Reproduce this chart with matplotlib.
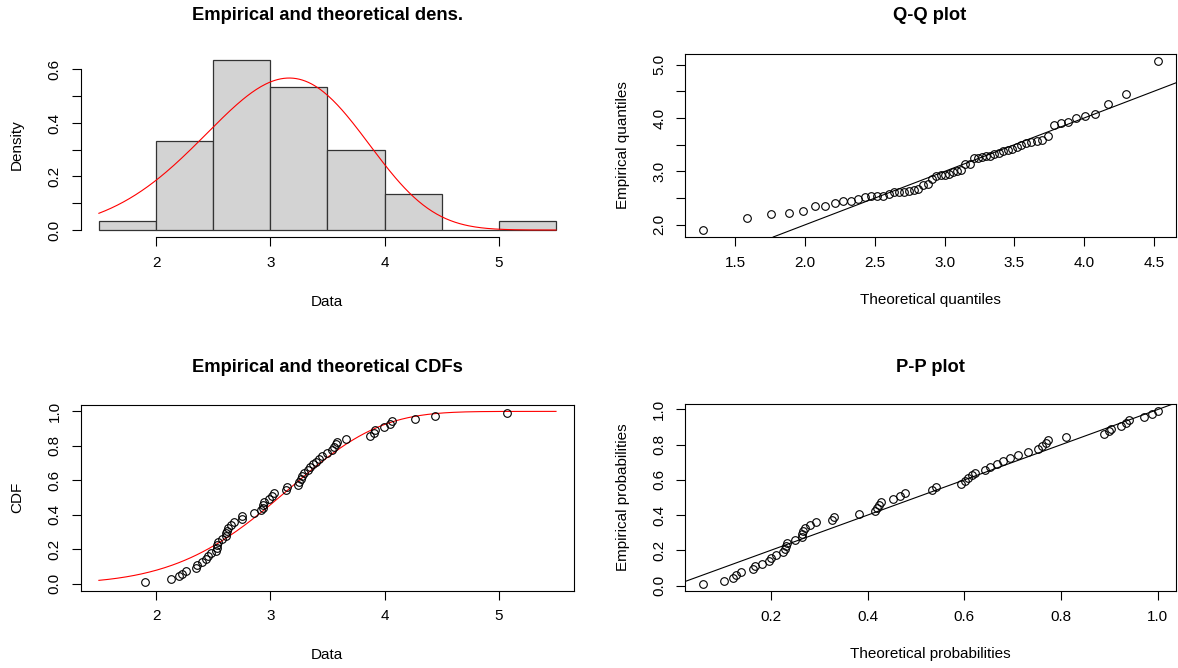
import numpy as np
import matplotlib
matplotlib.use("Agg")
import matplotlib.pyplot as plt

plt.rcParams['font.family'] = ['Liberation Sans', 'DejaVu Sans']

data = [1.90,
        2.127, 2.202, 2.227, 2.259, 2.346, 2.359, 2.402, 2.440, 2.452, 2.483,
        2.521, 2.531, 2.534, 2.538, 2.578, 2.612, 2.615, 2.618, 2.628, 2.653,
        2.678, 2.750, 2.756, 2.859, 2.922, 2.932, 2.937, 2.947, 2.991,
        3.017, 3.036, 3.136, 3.148, 3.242, 3.254, 3.267, 3.280, 3.292, 3.329,
        3.349, 3.374, 3.398, 3.424, 3.455, 3.495,
        3.536, 3.555, 3.574, 3.580, 3.662, 3.874, 3.905, 3.920, 3.995,
        4.045, 4.068, 4.265, 4.440,
        5.07]
breaks = [1.5, 2.0, 2.5, 3.0, 3.5, 4.0, 4.5, 5.0, 5.5]

# fitted weibull
shape = 5.0
scale = 3.31


def wpdf(x):
    z = x / scale
    return shape / scale * z ** (shape - 1) * np.exp(-z ** shape)


def wcdf(x):
    return 1 - np.exp(-(x / scale) ** shape)


def wq(p):
    return scale * (-np.log(1 - p)) ** (1 / shape)


def rlim(v):
    # R style 4% extension
    lo, hi = min(v), max(v)
    d = (hi - lo) * 0.04
    return lo - d, hi + d


x = np.sort(np.array(data))
n = len(x)
pp = (np.arange(1, n + 1) - 0.5) / n

W, H = 1178, 668
fig = plt.figure(figsize=(W / 100, H / 100), dpi=100)


def panel(l, t, r, b):
    return fig.add_axes([l / W, 1 - b / H, (r - l) / W, (b - t) / H])


def txt(cx, cy, s, **kw):
    fig.text(cx / W, 1 - cy / H, s, ha='center', va='center', **kw)


def r_axes(ax):
    for sp in ax.spines.values():
        sp.set_linewidth(0.8)
        sp.set_color('black')
    ax.tick_params(direction='out', length=6.5, width=0.8, labelsize=11, pad=7)


def rot_y(ax):
    for lb in ax.get_yticklabels():
        lb.set_rotation(90)
        lb.set_va('center')


xs = np.linspace(1.5, 5.5, 300)
pt = dict(linestyle='none', marker='o', mfc='none', mec='black', ms=5.5, mew=0.8)

# density
ax1 = panel(80.6, 53.7, 574.3, 236.8)
r_axes(ax1)
dens, _ = np.histogram(x, bins=breaks, density=True)
ax1.hist(x, bins=breaks, density=True, color='#D3D3D3', edgecolor='#333333', linewidth=0.9)
ax1.plot(xs, wpdf(xs), color='red', lw=0.8)
top = max(dens.max(), wpdf(xs).max())
ax1.set_xlim(rlim(breaks))
ax1.set_ylim(rlim([0, top]))
ax1.spines['top'].set_visible(False)
ax1.spines['right'].set_visible(False)
ax1.spines['left'].set_bounds(0, 0.6)
ax1.spines['bottom'].set_bounds(2, 5)
ax1.set_xticks([2, 3, 4, 5], ['2', '3', '4', '5'])
ax1.set_yticks(np.arange(0, 0.61, 0.1), ['0.0', '', '0.2', '', '0.4', '', '0.6'])
rot_y(ax1)

# cdf
ax3 = panel(80.6, 404.5, 574.3, 590.5)
r_axes(ax3)
ax3.plot(xs, wcdf(xs), color='red', lw=0.8)
ax3.plot(x, pp, **pt)
ax3.set_xlim(rlim(breaks))
ax3.set_ylim(rlim([0, 1]))
ax3.set_xticks([2, 3, 4, 5], ['2', '3', '4', '5'])
ax3.set_yticks(np.arange(0, 1.01, 0.2), ['0.0', '0.2', '0.4', '0.6', '0.8', '1.0'])
rot_y(ax3)

# Q-Q
ax2 = panel(685, 54, 1176, 237)
r_axes(ax2)
tq = wq(pp)
ax2.plot(tq, x, **pt)
ax2.axline((0, 0), (1, 1), color='black', lw=0.8)
ax2.set_xlim(rlim(tq))
ax2.set_ylim(rlim(x))
ax2.set_xticks(np.arange(1.5, 4.51, 0.5), ['1.5', '2.0', '2.5', '3.0', '3.5', '4.0', '4.5'])
ax2.set_yticks(np.arange(2.0, 5.01, 0.5), ['2.0', '', '3.0', '', '4.0', '', '5.0'])
rot_y(ax2)

# P-P
ax4 = panel(685, 404, 1176, 591)
r_axes(ax4)
tp = wcdf(x)
ax4.plot(tp, pp, **pt)
ax4.axline((0, 0), (1, 1), color='black', lw=0.8)
ax4.set_xlim(rlim(tp))
ax4.set_ylim(rlim(pp))
ax4.set_xticks(np.arange(0.2, 1.01, 0.2), ['0.2', '0.4', '0.6', '0.8', '1.0'])
ax4.set_yticks(np.arange(0, 1.01, 0.2), ['0.0', '0.2', '0.4', '0.6', '0.8', '1.0'])
rot_y(ax4)

# titles and axis labels
txt(327, 15, 'Empirical and theoretical dens.', fontsize=13.2, fontweight='bold')
txt(930, 15, 'Q-Q plot', fontsize=13.2, fontweight='bold')
txt(327, 368, 'Empirical and theoretical CDFs', fontsize=13.2, fontweight='bold')
txt(930, 368, 'P-P plot', fontsize=13.2, fontweight='bold')
txt(327, 302, 'Data', fontsize=11)
txt(930, 300, 'Theoretical quantiles', fontsize=11)
txt(327, 655, 'Data', fontsize=11)
txt(930, 654, 'Theoretical probabilities', fontsize=11)
txt(17, 145, 'Density', fontsize=11, rotation=90)
txt(17, 497, 'CDF', fontsize=11, rotation=90)
txt(623, 145, 'Empirical quantiles', fontsize=11, rotation=90)
txt(623, 497, 'Empirical probabilities', fontsize=11, rotation=90)

fig.savefig('out.png', dpi=100)
